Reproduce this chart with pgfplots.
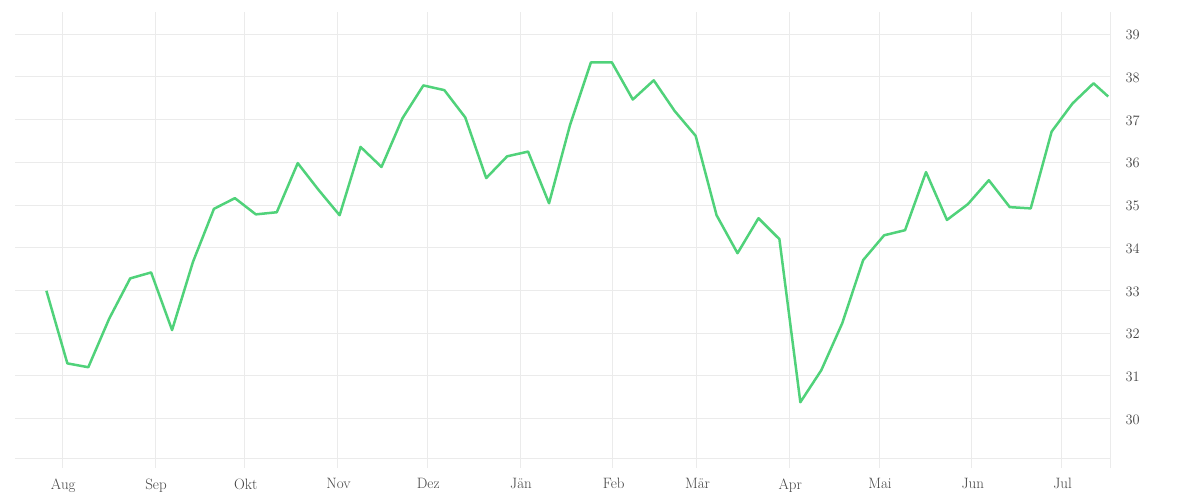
\documentclass[border=0pt]{standalone}
\usepackage{pgfplots}
\pgfplotsset{compat=1.18}
\definecolor{linegreen}{HTML}{50D27A}
\definecolor{gridgrey}{HTML}{EBEBEB}
\definecolor{labelgrey}{HTML}{444444}

\begin{document}
\begin{tikzpicture}
\begin{axis}[
    at={(0,0)}, anchor=south west,
    scale only axis,
    width=1095pt, height=456pt,
    xmin=-15.8, xmax=350.2,
    ymin=28.84, ymax=39.52,
    axis line style={draw=none},
    major tick length=0pt,
    % months as days from 1 Aug
    xtick={0,31,61,92,122,153,184,212,243,273,304,334},
    xticklabels={Aug,Sep,Okt,Nov,Dez,J\"an,Feb,M\"ar,Apr,Mai,Jun,Jul},
    ytick={30,...,39},
    extra y ticks={29.06},
    extra y tick labels={},
    extra x ticks={350.2},
    extra x tick labels={},
    yticklabel pos=right,
    xmajorgrids=true, ymajorgrids=true,
    grid style={gridgrey, line width=0.9pt},
    extra tick style={grid style={gridgrey, line width=0.9pt}},
    tick label style={font=\fontsize{15}{17}\selectfont, text=labelgrey},
    yticklabel style={anchor=west, xshift=12pt, yshift=-1pt},
    xticklabel style={yshift=-7pt, xshift=1pt},
    clip=false,
]
\addplot [color=linegreen, line width=2.5pt, line join=round] coordinates {
    (-5.3,32.99) (1.7,31.29) (8.7,31.20) (15.7,32.34) (22.7,33.28) (29.7,33.42)
    (36.7,32.07) (43.7,33.67) (50.7,34.91) (57.7,35.16) (64.7,34.78) (71.7,34.83)
    (78.7,35.98) (85.7,35.35) (92.7,34.76) (99.7,36.36) (106.7,35.89) (113.7,37.03)
    (120.7,37.80) (127.7,37.69) (134.7,37.05) (141.7,35.63) (148.7,36.14) (155.7,36.25)
    (162.7,35.04) (169.7,36.87) (176.7,38.34) (183.7,38.34) (190.7,37.47) (197.7,37.92)
    (204.7,37.20) (211.7,36.62) (218.7,34.76) (225.7,33.87) (232.7,34.69) (239.7,34.20)
    (246.7,30.38) (253.7,31.13) (260.7,32.23) (267.7,33.71) (274.7,34.29) (281.7,34.41)
    (288.7,35.77) (295.7,34.65) (302.7,35.02) (309.7,35.58) (316.7,34.95) (323.7,34.92)
    (330.7,36.72) (337.7,37.38) (344.7,37.85) (349.6,37.54)
};
\end{axis}
\pgfresetboundingbox
\path[use as bounding box] (-15pt,-32pt) rectangle (1185pt,468pt);
\end{tikzpicture}
\end{document}
